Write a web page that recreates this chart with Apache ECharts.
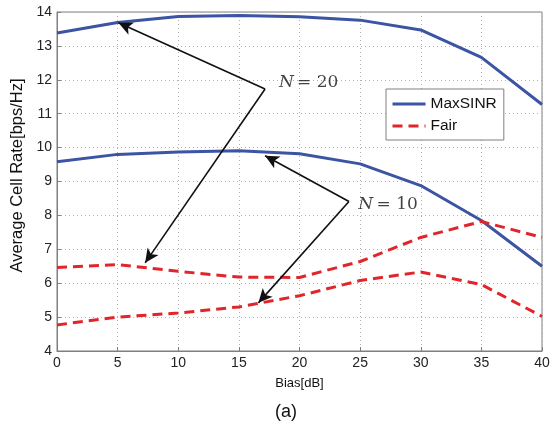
<!DOCTYPE html>
<html><head><meta charset="utf-8">
<script src="https://cdn.jsdelivr.net/npm/echarts@6/dist/echarts.min.js"></script>
<style>html,body{margin:0;padding:0;background:#fff}#c{width:556px;height:433px}</style>
</head><body><div id="c"></div>
<script>
var bias = [0, 5, 10, 15, 20, 25, 30, 35, 40];
var maxSinrN20 = [13.38, 13.69, 13.87, 13.90, 13.86, 13.76, 13.47, 12.66, 11.27];
var maxSinrN10 = [9.58, 9.80, 9.87, 9.91, 9.82, 9.52, 8.88, 7.85, 6.50];
var fairN20 = [6.46, 6.55, 6.35, 6.18, 6.17, 6.64, 7.35, 7.82, 7.35];
var fairN10 = [4.77, 5.00, 5.12, 5.30, 5.63, 6.08, 6.33, 5.96, 5.02];
var xTicks = [0, 40, 5];
var yTicks = [4, 14, 1];
// annotation arrows: [vertex, tip]
var arrowsN20 = [[[17.16, 11.73], [5.07, 13.68]], [[17.16, 11.73], [7.27, 6.60]]];
var arrowsN10 = [[[24.08, 8.41], [17.16, 9.76]], [[24.08, 8.41], [16.61, 5.42]]];
var labelN20 = [18.3, 11.91, '20'];
var labelN10 = [24.85, 8.32, '10'];

var BLUE = '#3b54a3', RED = '#e0262b';
function pairs(ys){ return bias.map(function(x,i){ return [x, ys[i]]; }); }
function arrowData(list){
  return list.map(function(a){ return [{coord: a[0]}, {coord: a[1]}]; });
}
function lineSeries(name, ys, color, dashed){
  return {
    name: name, type: 'line', data: pairs(ys), symbol: 'none', silent: true,
    lineStyle: {color: color, width: 3, type: dashed ? [10, 6] : 'solid'},
    itemStyle: {color: color}, z: 3
  };
}
var labelSeries = {
  type: 'scatter', symbolSize: 0, silent: true, z: 6,
  data: [labelN20, labelN10].map(function(l){ return {value: [l[0], l[1]], n: l[2]}; }),
  label: {
    show: true, position: 'right', distance: 0,
    formatter: function(p){ return '{i|N} {r|= ' + p.data.n + '}'; },
    rich: {
      i: {fontFamily: 'DejaVu Serif', fontStyle: 'italic', fontSize: 17, color: '#111'},
      r: {fontFamily: 'DejaVu Serif', fontSize: 17, color: '#111'}
    }
  }
};
var arrowSeries = {
  type: 'line', data: [], silent: true, z: 5,
  markLine: {
    silent: true, symbol: ['none', 'arrow'], symbolSize: [10, 14],
    label: {show: false},
    lineStyle: {color: '#111', width: 1.6, type: 'solid'},
    emphasis: {disabled: true},
    data: arrowData(arrowsN20).concat(arrowData(arrowsN10))
  }
};

var chart = echarts.init(document.getElementById('c'), null, {renderer: 'canvas'});
chart.setOption({
  animation: false,
  backgroundColor: '#fff',
  textStyle: {fontFamily: 'Liberation Sans'},
  title: {text: '(a)', left: 270, top: 398, textStyle: {fontSize: 18, fontWeight: 'normal', color: '#111', fontFamily: 'Liberation Sans'}},
  grid: {left: 57, right: 14, top: 12, bottom: 82, show: true, borderColor: '#7f7f7f', borderWidth: 1, backgroundColor: '#fff'},
  legend: {
    orient: 'vertical', left: 386, top: 89,
    padding: [7, 7, 6, 5], itemGap: 6, itemWidth: 33, itemHeight: 14,
    backgroundColor: '#fff', borderColor: '#7f7f7f', borderWidth: 1,
    itemStyle: {opacity: 0},
    lineStyle: {width: 3},
    textStyle: {fontSize: 15.5, color: '#111', fontFamily: 'Liberation Sans'},
    data: ['MaxSINR', 'Fair']
  },
  xAxis: {
    type: 'value', min: xTicks[0], max: xTicks[1], interval: xTicks[2],
    name: 'Bias[dB]', nameLocation: 'middle', nameGap: 26,
    nameTextStyle: {fontSize: 13, color: '#111'},
    axisLine: {show: true, lineStyle: {color: '#7f7f7f'}},
    axisTick: {show: true, inside: true, length: 4, lineStyle: {color: '#7f7f7f'}},
    axisLabel: {fontSize: 14, color: '#222', margin: 5},
    splitLine: {show: true, lineStyle: {color: '#b0b0b0', type: [1, 3], width: 1}}
  },
  yAxis: {
    type: 'value', min: yTicks[0], max: yTicks[1], interval: yTicks[2],
    name: 'Average Cell Rate[bps/Hz]', nameLocation: 'middle', nameGap: 27,
    nameTextStyle: {fontSize: 16.5, color: '#111', padding: [0, 0, 0, 12]},
    axisLine: {show: true, lineStyle: {color: '#7f7f7f'}},
    axisTick: {show: true, inside: true, length: 4, lineStyle: {color: '#7f7f7f'}},
    axisLabel: {fontSize: 14, color: '#222', margin: 5},
    splitLine: {show: true, lineStyle: {color: '#b0b0b0', type: [1, 3], width: 1}}
  },
  series: [
    lineSeries('MaxSINR', maxSinrN20, BLUE, false),
    lineSeries('MaxSINR', maxSinrN10, BLUE, false),
    lineSeries('Fair', fairN20, RED, true),
    lineSeries('Fair', fairN10, RED, true),
    arrowSeries,
    labelSeries
  ]
});
</script></body></html>
